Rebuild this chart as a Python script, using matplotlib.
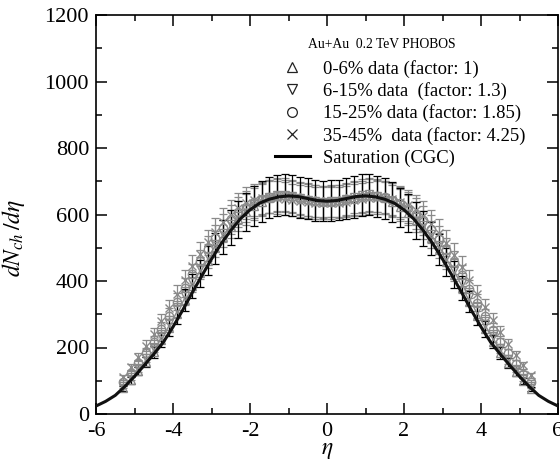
import matplotlib
matplotlib.use("Agg")
import matplotlib.pyplot as plt
from matplotlib.lines import Line2D
from matplotlib.ticker import MultipleLocator

plt.rcParams['font.family'] = ['Liberation Serif', 'DejaVu Serif']
plt.rcParams['mathtext.fontset'] = 'stix'
plt.rcParams['axes.unicode_minus'] = False

# pseudorapidity bins
eta = [-5.3, -5.1, -4.9, -4.7, -4.5, -4.3, -4.1, -3.9, -3.7, -3.5, -3.3, -3.1, -2.9, -2.7,
       -2.5, -2.3, -2.1, -1.9, -1.7, -1.5, -1.3, -1.1, -0.9, -0.7, -0.5, -0.3, -0.1,
       0.1, 0.3, 0.5, 0.7, 0.9, 1.1, 1.3, 1.5, 1.7, 1.9, 2.1, 2.3, 2.5, 2.7,
       2.9, 3.1, 3.3, 3.5, 3.7, 3.9, 4.1, 4.3, 4.5, 4.7, 4.9, 5.1, 5.3]

# 0-6% (factor 1)
cent_0_6 = [78, 101, 128, 156, 186, 222, 260, 300, 342, 384, 423, 461, 498, 532,
            561, 586, 607, 625, 639, 651, 657, 660, 657, 652, 647, 643, 640,
            642, 644, 649, 653, 658, 660, 655, 649, 637, 622, 604, 583, 558, 528,
            494, 457, 419, 380, 338, 296, 256, 218, 184, 153, 125, 99, 75]
# 6-15% (factor 1.3)
cent_6_15 = [85, 110, 138, 168, 200, 236, 274, 316, 356, 398, 438, 476, 511, 544,
             572, 596, 616, 632, 644, 654, 659, 660, 656, 650, 645, 641, 639,
             640, 642, 647, 652, 658, 661, 657, 651, 641, 629, 613, 593, 569, 540,
             507, 472, 434, 394, 353, 313, 272, 234, 197, 164, 135, 108, 83]
# 15-25% (factor 1.85)
cent_15_25 = [95, 122, 152, 184, 218, 256, 296, 338, 380, 421, 460, 497, 530, 560,
              586, 607, 624, 637, 647, 654, 657, 656, 652, 647, 643, 640, 638,
              639, 641, 644, 648, 653, 657, 656, 652, 645, 634, 620, 603, 582, 556,
              526, 493, 456, 417, 376, 335, 294, 254, 217, 182, 150, 121, 96]
# 35-45% (factor 4.25)
cent_35_45 = [110, 140, 172, 206, 242, 280, 320, 362, 404, 444, 482, 516, 548, 576,
              600, 619, 634, 644, 650, 652, 651, 648, 644, 640, 637, 635, 634,
              635, 636, 639, 643, 647, 650, 651, 650, 646, 639, 628, 613, 595, 572,
              545, 514, 479, 442, 402, 362, 322, 283, 246, 210, 177, 146, 116]

rel_err = [0.095, 0.075, 0.075, 0.075]

# saturation (CGC) curve
eta_cgc = [-6.0, -5.75, -5.5, -5.25, -5.0, -4.75, -4.5, -4.25, -4.0, -3.75, -3.5, -3.25,
           -3.0, -2.75, -2.5, -2.25, -2.0, -1.75, -1.5, -1.25, -1.0, -0.75, -0.5, -0.25,
           0.0, 0.25, 0.5, 0.75, 1.0, 1.25, 1.5, 1.75, 2.0, 2.25, 2.5, 2.75, 3.0,
           3.25, 3.5, 3.75, 4.0, 4.25, 4.5, 4.75, 5.0, 5.25, 5.5, 5.75, 6.0]
cgc = [24, 38, 56, 83, 113, 146, 180, 216, 262, 312, 365, 416,
       466, 512, 552, 587, 614, 634, 646, 653, 656, 654, 648, 642,
       640, 642, 648, 654, 656, 653, 646, 634, 614, 587, 552, 512, 466,
       416, 365, 312, 262, 216, 180, 146, 113, 83, 56, 38, 24]

labels = ["0-6% data (factor: 1)", "6-15% data  (factor: 1.3)",
          "15-25% data (factor: 1.85)", "35-45%  data (factor: 4.25)"]
markers = ['^', 'v', 'o', 'x']
gray = '#8a8a8a'

fig = plt.figure(figsize=(5.6, 4.63), dpi=100)
ax = fig.add_axes([96 / 560, 49 / 463, 462 / 560, 399 / 463])

series = [cent_0_6, cent_6_15, cent_15_25, cent_35_45]
for i in [3, 2, 1, 0]:
    vals = series[i]
    errs = [v * rel_err[i] for v in vals]
    ecol = 'k' if i == 0 else gray
    ax.errorbar(eta, vals, yerr=errs, fmt='none', ecolor=ecol, elinewidth=0.9,
                capsize=3, capthick=0.9, zorder=2 if i else 3)
    ax.plot(eta, vals, linestyle='none', marker=markers[i], ms=6, mfc='none',
            mec=gray, mew=1.0, zorder=4)

ax.plot(eta_cgc, cgc, color='#111111', lw=2.2, zorder=5)

ax.set_xlim(-6, 6)
ax.set_ylim(0, 1200)
ax.xaxis.set_major_locator(MultipleLocator(2))
ax.xaxis.set_minor_locator(MultipleLocator(1))
ax.yaxis.set_major_locator(MultipleLocator(200))
ax.yaxis.set_minor_locator(MultipleLocator(100))
ax.tick_params(which='both', direction='in', top=True, right=True, labelsize=16, width=1.1)
ax.tick_params(which='major', length=8)
ax.tick_params(axis='x', which='major', pad=6)
ax.tick_params(axis='y', which='major', pad=5)
ax.tick_params(which='minor', length=4)
for s in ax.spines.values():
    s.set_linewidth(1.2)

ax.set_xlabel(r"$\eta$", fontsize=17, labelpad=-1)
ax.set_ylabel(r"$dN_{ch}\,/d\eta$", fontsize=17)
ax.yaxis.set_label_coords(-0.15, 0.44)

ax.text(0.459, 0.927, "Au+Au  0.2 TeV PHOBOS", transform=ax.transAxes,
        fontsize=9.8, va='center', ha='left')

handles = [Line2D([], [], linestyle='none', marker=m, ms=7, mfc='none', mec='#222222', mew=0.9)
           for m in markers]
handles.append(Line2D([], [], color='k', lw=2.2))
ax.legend(handles, labels + ["Saturation (CGC)"], loc='upper left',
          bbox_to_anchor=(0.387, 0.888), frameon=False, fontsize=13.4,
          borderpad=0, borderaxespad=0, labelspacing=0.24, handlelength=1.9,
          handletextpad=0.7)

fig.savefig("out.png", dpi=100)
